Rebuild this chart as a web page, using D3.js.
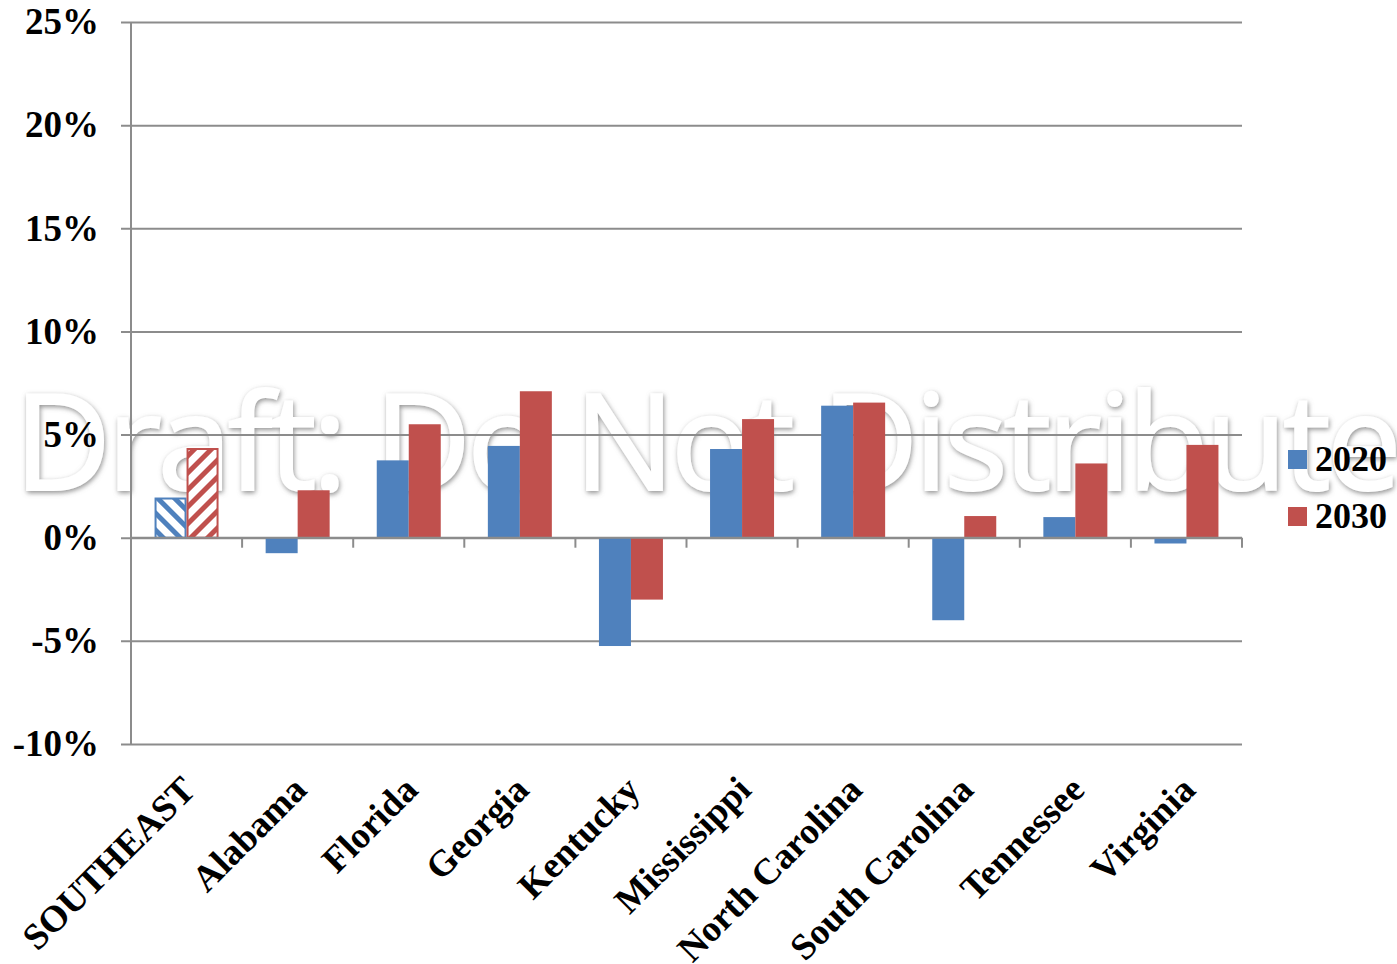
<!DOCTYPE html>
<html>
<head>
<meta charset="utf-8">
<script src="https://cdn.jsdelivr.net/npm/d3@7"></script>
<style>
html, body { margin: 0; padding: 0; background: #fff; }
svg { display: block; }
</style>
</head>
<body>
<svg id="chart" width="1397" height="964"></svg>
<script>
const categories = ["SOUTHEAST", "Alabama", "Florida", "Georgia", "Kentucky", "Mississippi", "North Carolina", "South Carolina", "Tennessee", "Virginia"];
const seriesNames = ["2020", "2030"];
const values2020 = [1.9, -0.75, 3.75, 4.45, -5.25, 4.3, 6.4, -4.0, 1.0, -0.28];
const values2030 = [4.3, 2.3, 5.5, 7.1, -3.0, 5.75, 6.55, 1.05, 3.6, 4.5];
const yTicks = [-10, -5, 0, 5, 10, 15, 20, 25];
const colors = { "2020": "#4F81BD", "2030": "#C0504D" };

const svg = d3.select("#chart");
const mLeft = 131, mRight = 1242, mTop = 22, mBottom = 744;
const fontFam = "'Liberation Serif', 'Times New Roman', serif";

const defs = svg.append("defs");
const f = defs.append("filter").attr("id", "wmshadow").attr("x", "-5%").attr("y", "-20%").attr("width", "110%").attr("height", "140%");
f.append("feGaussianBlur").attr("in", "SourceAlpha").attr("stdDeviation", 2.4).attr("result", "blur");
f.append("feOffset").attr("in", "blur").attr("dx", 1).attr("dy", 1.5).attr("result", "off");
f.append("feFlood").attr("flood-color", "#777").attr("flood-opacity", 0.8).attr("result", "col");
f.append("feComposite").attr("in", "col").attr("in2", "off").attr("operator", "in").attr("result", "shadow");
const m = f.append("feMerge");
m.append("feMergeNode").attr("in", "shadow");
m.append("feMergeNode").attr("in", "SourceGraphic");

function hatch(id, color, dir) {
  const p = defs.append("pattern").attr("id", id).attr("patternUnits", "userSpaceOnUse")
    .attr("width", 12).attr("height", 12)
    .attr("patternTransform", `rotate(${dir})`);
  p.append("rect").attr("width", 12).attr("height", 12).attr("fill", "#fff");
  p.append("rect").attr("x", 0).attr("y", 0).attr("width", 5).attr("height", 12).attr("fill", color);
}
hatch("hatch2020", colors["2020"], -45);
hatch("hatch2030", colors["2030"], 45);

// watermark (behind)
svg.append("text")
  .attr("x", 14).attr("y", 490)
  .attr("font-family", "'Open Sans', sans-serif")
  .attr("font-size", 134)
  .attr("letter-spacing", -4.2)
  .attr("fill", "#fff")
  .attr("stroke", "#fff").attr("stroke-width", 2)
  .attr("filter", "url(#wmshadow)")
  .text("Draft: Do Not Distribute");

const y = d3.scaleLinear().domain([-10, 25]).range([mBottom, mTop]);
const x0 = d3.scaleBand().domain(categories).range([mLeft, mRight]).padding(0);
const x1 = d3.scaleBand().domain(seriesNames).range([0, x0.bandwidth()]).paddingInner(0).paddingOuter(0.736);

// gridlines + y ticks
const yAxis = d3.axisLeft(y).tickValues(yTicks).tickSize(-(mRight - mLeft)).tickFormat(d => d + "%");
const gy = svg.append("g").attr("transform", `translate(${mLeft},0)`).call(yAxis);
gy.select(".domain").remove();
gy.selectAll(".tick line").attr("x1", -10).attr("stroke", "#8c8c8c").attr("stroke-width", 2);
gy.selectAll(".tick text").attr("font-family", fontFam).attr("font-weight", "bold").attr("font-size", 37).attr("fill", "#000").attr("x", -32).attr("dy", "0.32em");

// y axis line
svg.append("line").attr("x1", mLeft).attr("x2", mLeft).attr("y1", mTop).attr("y2", mBottom).attr("stroke", "#8c8c8c").attr("stroke-width", 2);

// bars
const data = categories.map((c, i) => ({ cat: c, i, vals: [{ s: "2020", v: values2020[i] }, { s: "2030", v: values2030[i] }] }));
const groups = svg.append("g").selectAll("g").data(data).join("g").attr("transform", d => `translate(${x0(d.cat)},0)`);
groups.selectAll("rect").data(d => d.vals.map(o => ({ ...o, i: d.i }))).join("rect")
  .attr("x", d => x1(d.s) + (d.i === 0 ? 1 : 0))
  .attr("width", d => x1.bandwidth() - (d.i === 0 ? 2 : 0))
  .attr("y", d => y(Math.max(0, d.v)))
  .attr("height", d => Math.abs(y(d.v) - y(0)))
  .attr("fill", d => d.i === 0 ? `url(#hatch${d.s})` : colors[d.s])
  .attr("stroke", d => d.i === 0 ? colors[d.s] : "none")
  .attr("stroke-width", 2);

// zero axis with ticks
svg.append("line").attr("x1", mLeft).attr("x2", mRight).attr("y1", y(0)).attr("y2", y(0)).attr("stroke", "#8c8c8c").attr("stroke-width", 2);
svg.append("g").selectAll("line").data(categories).join("line")
  .attr("x1", d => x0(d) + x0.step()).attr("x2", d => x0(d) + x0.step())
  .attr("y1", y(0)).attr("y2", y(0) + 10).attr("stroke", "#8c8c8c").attr("stroke-width", 2);

// x labels
svg.append("g").selectAll("text").data(categories).join("text")
  .attr("transform", d => `translate(${x0(d) + x0.bandwidth() / 2 + 11},${792}) rotate(-45)`)
  .attr("text-anchor", "end")
  .attr("font-family", fontFam).attr("font-weight", "bold").attr("font-size", 37).attr("fill", "#000")
  .text(d => d);

// legend
const leg = svg.append("g").selectAll("g").data(seriesNames).join("g")
  .attr("transform", (d, i) => `translate(1288,${450 + i * 57})`);
leg.append("rect").attr("width", 19).attr("height", 19).attr("fill", d => colors[d]);
leg.append("text").attr("x", 27).attr("y", 21).attr("font-family", fontFam).attr("font-weight", "bold").attr("font-size", 36).attr("fill", "#000").text(d => d);
</script>
</body>
</html>
